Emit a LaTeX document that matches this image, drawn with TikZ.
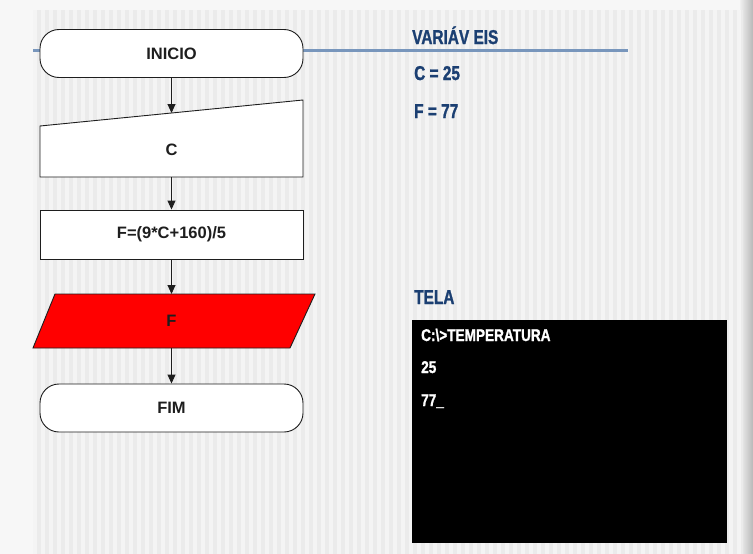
\documentclass[tikz,border=0pt]{standalone}
\usepackage{fontspec}
\setmainfont{Liberation Sans}
\newfontfamily\condf[FakeStretch=0.77, FakeBold=1.2]{Liberation Sans}
\newfontfamily\termf[FakeStretch=0.8, FakeBold=1.2]{Liberation Sans}
\usetikzlibrary{arrows.meta}
\definecolor{panel}{HTML}{EBEBEB}
\definecolor{stripe}{HTML}{F4F4F4}
\definecolor{titleblue}{HTML}{1B3F72}
\definecolor{rule}{HTML}{7896BC}
\definecolor{ink}{HTML}{1E1E1E}
\tikzset{
  shapeline/.style={draw=ink, line width=0.9pt},
  term/.style={shapeline, fill=white, rectangle, rounded corners=19pt, minimum width=263pt, minimum height=48pt, inner sep=0pt},
  procbox/.style={shapeline, fill=white, rectangle, minimum width=263pt, minimum height=49pt, inner sep=0pt},
  flowtxt/.style={font=\bfseries\fontsize{16.5}{19}\selectfont, text=ink},
  flowarrow/.style={draw=ink, line width=0.9pt, -{Triangle[length=9pt,width=8pt]}},
  vartxt/.style={font=\condf\bfseries\fontsize{20}{23}\selectfont, text=titleblue, anchor=base west, inner sep=0pt},
  termtxt/.style={font=\termf\bfseries\fontsize{17}{20}\selectfont, text=white, anchor=base west, inner sep=0pt},
}
\begin{document}
\begin{tikzpicture}[x=1pt, y=-1pt]
\useasboundingbox (0,0) rectangle (753,554);
% outer background
\fill[white!97!black] (0,0) rectangle (753,554);
\shade[left color=white!94!black, right color=white!72!black] (740,0) rectangle (753,554);
% panel with stripes
\fill[panel] (33,10) rectangle (743,554);
\foreach \x in {33,41,...,737} \fill[stripe] (\x,10) rectangle ++(4,544);
% blue rule
\draw[rule, line width=3pt] (33,50) -- (628,50);

% flowchart
\node[term, flowtxt] (inicio) at (171.5,53.5) {INICIO};

\draw[shapeline, fill=white] (40,126) -- (303,100) -- (303,177) -- (40,177) -- cycle;
\node[flowtxt] (c) at (171.5,150) {C};
\coordinate (ctop) at (171.5,113);
\coordinate (cbot) at (171.5,177);

\node[procbox, flowtxt] (calc) at (171.5,234.5) {F=(9*C+160)/5};

\draw[shapeline, fill=red] (55,294) -- (315,294) -- (290,348) -- (33,348) -- cycle;
\node[flowtxt] (f) at (171.5,321) {F};
\coordinate (ftop) at (171.5,294);
\coordinate (fbot) at (171.5,348);

\node[term, flowtxt] (fim) at (171.5,408) {FIM};

\draw[flowarrow] (inicio.south) -- (ctop);
\draw[flowarrow] (cbot) -- (calc.north);
\draw[flowarrow] (calc.south) -- (ftop);
\draw[flowarrow] (fbot) -- (fim.north);

% variables
\node[vartxt] (vtitle) at (412,44) {VARIÁV EIS};
\node[vartxt] (vc) at (414,80) {C = 25};
\node[vartxt] (vf) at (414,118) {F = 77};

% screen
\node[vartxt] (tela) at (414,304) {TELA};
\fill[black] (412,320) rectangle (727,543);
\node[termtxt] (l1) at (421,341) {C:\textbackslash>TEMPERATURA};
\node[termtxt] (l2) at (421,373) {25};
\node[termtxt] (l3) at (421,406) {77\_};
\end{tikzpicture}
\end{document}
